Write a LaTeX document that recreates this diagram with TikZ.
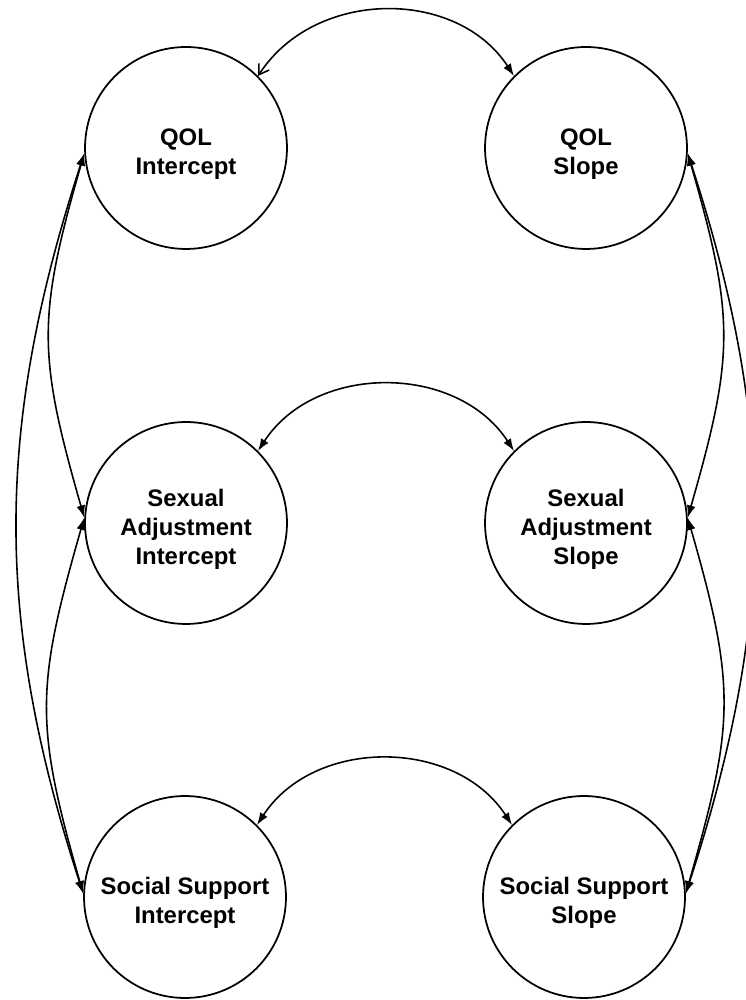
\documentclass[tikz,border=0pt]{standalone}
\usepackage{fontspec}
\setmainfont{Liberation Sans}
\usetikzlibrary{arrows.meta}
\begin{document}
\begin{tikzpicture}[x=0.02cm,y=0.02cm,
  latent/.style={draw, line width=1pt, circle, minimum size=4.04cm, inner sep=0pt},
  lbl/.style={align=center, inner sep=0pt, font=\fontsize{13.6}{16.6}\selectfont\bfseries},
  cov/.style={line width=0.9pt, {Latex[length=7pt,width=5pt]}-{Latex[length=7pt,width=5pt]}},
  covopen/.style={line width=0.9pt, {Straight Barb[length=5.5pt,width=7pt]}-{Latex[length=7pt,width=5pt]}}]
\useasboundingbox (0,0) rectangle (746,1000);
\fill[white] (0,0) rectangle (746,1000);
\node[latent] (qi) at (186,852) {};
\node[latent] (qs) at (586,852) {};
\node[latent] (ai) at (186,477) {};
\node[latent] (as) at (586,477) {};
\node[latent] (si) at (185,103) {};
\node[latent] (ss) at (584,103) {};
\node[lbl] (qit) at ([yshift=-0.13cm]qi.center) {QOL\\Intercept};
\node[lbl] (qst) at ([yshift=-0.13cm]qs.center) {QOL\\Slope};
\node[lbl] (ait) at ([yshift=-0.12cm]ai.center) {Sexual\\Adjustment\\Intercept};
\node[lbl] (ast) at ([yshift=-0.12cm]as.center) {Sexual\\Adjustment\\Slope};
\node[lbl] (sit) at ([yshift=-0.12cm]si.center) {Social Support\\Intercept};
\node[lbl] (sst) at ([yshift=-0.12cm]ss.center) {Social Support\\Slope};
% horizontal covariances
\draw[covopen] (qi.45) to[out=57,in=123,looseness=1.05] (qs.135);
\draw[cov] (ai.45) to[out=57,in=123,looseness=1.05] (as.135);
\draw[cov] (si.45) to[out=57,in=123,looseness=1.05] (ss.135);
% left side
\draw[cov] (qi.183) to[out=254,in=106,looseness=1.2] (ai.177);
\draw[cov] (qi.183) to[out=252,in=108] (si.178);
\draw[cov] (ai.177) to[out=254,in=106,looseness=1.2] (si.178);
% right side
\draw[cov] (qs.357) to[out=286,in=74,looseness=1.2] (as.3);
\draw[cov] (qs.357) to[out=288,in=72] (ss.2);
\draw[cov] (as.3) to[out=286,in=74,looseness=1.2] (ss.2);
\end{tikzpicture}
\end{document}
